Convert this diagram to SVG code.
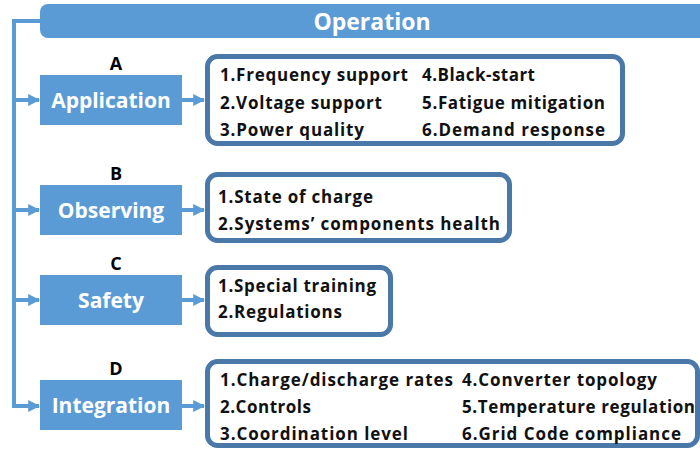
<svg xmlns="http://www.w3.org/2000/svg" width="700" height="450" viewBox="0 0 700 450">
<style>
.bar{fill:#5b9bd5;}
.box{fill:#5b9bd5;}
.lst{fill:#ffffff;stroke:#4a78a8;stroke-width:5;}
.con{stroke:#5b9bd5;stroke-width:4;fill:none;}
.wt{font-family:"Open Sans","Liberation Sans",sans-serif;font-weight:bold;fill:#ffffff;text-anchor:middle;}
.lt{font-family:"Open Sans","Liberation Sans",sans-serif;font-weight:bold;font-size:18px;fill:#000;text-anchor:middle;}
.it{font-family:"Open Sans","Liberation Sans",sans-serif;font-weight:bold;font-size:17px;fill:#111;}
</style>
<defs>
<marker id="ah" viewBox="0 0 10 10" refX="9" refY="5" markerWidth="3" markerHeight="3" orient="auto" markerUnits="strokeWidth">
<path d="M0,0 L10,5 L0,10 z" fill="#5b9bd5"/>
</marker>
</defs>
<g id="operation">
<rect class="bar" x="40" y="4" width="680" height="34" rx="8"/>
<text class="wt" x="372" y="29.5" font-size="23">Operation</text>
</g>
<g id="connectors">
<path class="con" d="M40,21 H14 V406"/>
<line class="con" x1="14" y1="100" x2="39" y2="100" marker-end="url(#ah)"/>
<line class="con" x1="14" y1="210" x2="39" y2="210" marker-end="url(#ah)"/>
<line class="con" x1="14" y1="300" x2="39" y2="300" marker-end="url(#ah)"/>
<line class="con" x1="12" y1="406" x2="39" y2="406" marker-end="url(#ah)"/>
<line class="con" x1="182" y1="100" x2="204" y2="100" marker-end="url(#ah)"/>
<line class="con" x1="182" y1="210" x2="204" y2="210" marker-end="url(#ah)"/>
<line class="con" x1="182" y1="300" x2="204" y2="300" marker-end="url(#ah)"/>
<line class="con" x1="182" y1="406" x2="204" y2="406" marker-end="url(#ah)"/>
</g>
<g id="application">
<text class="lt" x="116" y="70">A</text>
<rect class="box" x="40" y="75" width="142" height="50"/>
<text class="wt" x="111" y="107.5" font-size="21">Application</text>
</g>
<g id="application-list">
<rect class="lst" x="207.5" y="56.5" width="415" height="87" rx="10"/>
<text class="it" x="220" y="81" textLength="188" lengthAdjust="spacing">1.Frequency support</text>
<text class="it" x="220" y="109" textLength="162" lengthAdjust="spacing">2.Voltage support</text>
<text class="it" x="220" y="136" textLength="144" lengthAdjust="spacing">3.Power quality</text>
<text class="it" x="422" y="81" textLength="113" lengthAdjust="spacing">4.Black-start</text>
<text class="it" x="422" y="109" textLength="183" lengthAdjust="spacing">5.Fatigue mitigation</text>
<text class="it" x="422" y="136" textLength="183" lengthAdjust="spacing">6.Demand response</text>
</g>
<g id="observing">
<text class="lt" x="116" y="180">B</text>
<rect class="box" x="40" y="185" width="142" height="50"/>
<text class="wt" x="111" y="217.5" font-size="21">Observing</text>
</g>
<g id="observing-list">
<rect class="lst" x="207.5" y="174.5" width="302" height="66" rx="10"/>
<text class="it" x="218" y="203" textLength="155" lengthAdjust="spacing">1.State of charge</text>
<text class="it" x="218" y="230" textLength="282" lengthAdjust="spacing">2.Systems’ components health</text>
</g>
<g id="safety">
<text class="lt" x="116" y="270">C</text>
<rect class="box" x="40" y="275" width="142" height="50"/>
<text class="wt" x="111" y="307.5" font-size="21">Safety</text>
</g>
<g id="safety-list">
<rect class="lst" x="207.5" y="267.5" width="183" height="67" rx="10"/>
<text class="it" x="218" y="292" textLength="158" lengthAdjust="spacing">1.Special training</text>
<text class="it" x="218" y="318" textLength="124" lengthAdjust="spacing">2.Regulations</text>
</g>
<g id="integration">
<text class="lt" x="116" y="375">D</text>
<rect class="box" x="40" y="380" width="142" height="50"/>
<text class="wt" x="111" y="412.5" font-size="21">Integration</text>
</g>
<g id="integration-list">
<rect class="lst" x="207.5" y="361.5" width="490" height="84" rx="10"/>
<text class="it" x="220" y="386" textLength="233" lengthAdjust="spacing">1.Charge/discharge rates</text>
<text class="it" x="220" y="413" textLength="91" lengthAdjust="spacing">2.Controls</text>
<text class="it" x="220" y="440" textLength="188" lengthAdjust="spacing">3.Coordination level</text>
<text class="it" x="462" y="386" textLength="195" lengthAdjust="spacing">4.Converter topology</text>
<text class="it" x="462" y="413" textLength="233" lengthAdjust="spacing">5.Temperature regulation</text>
<text class="it" x="462" y="440" textLength="219" lengthAdjust="spacing">6.Grid Code compliance</text>
</g>
</svg>
